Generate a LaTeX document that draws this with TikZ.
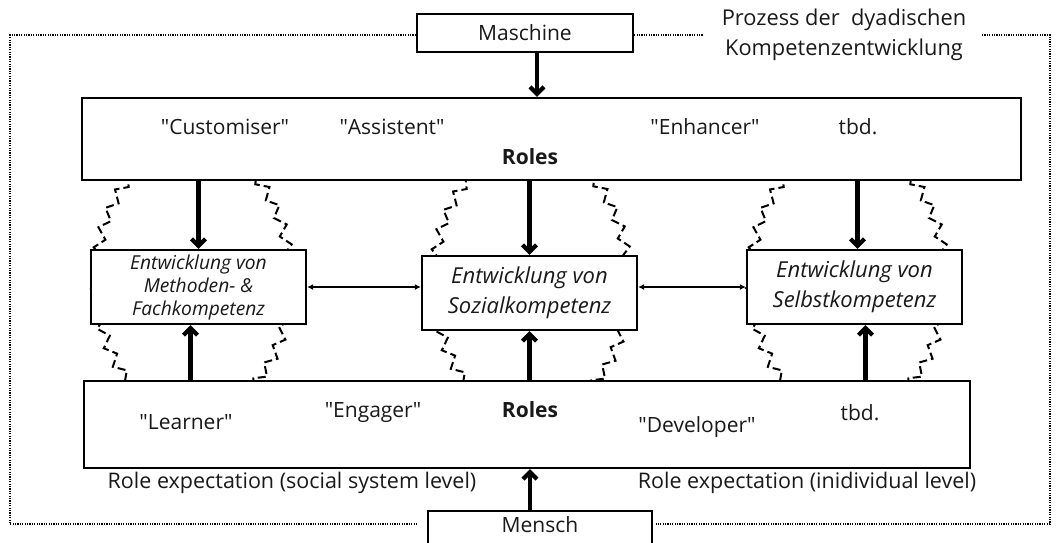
\documentclass[tikz,border=0pt]{standalone}
\usepackage{fontspec}
\setmainfont{Open Sans}
\usepackage{tikz}
\usetikzlibrary{arrows.meta, decorations.pathmorphing}

\newcommand{\qt}[1]{\textquotedbl#1\textquotedbl}

\begin{document}
\begin{tikzpicture}[x=1pt, y=-1pt,
        box/.style={draw, line width=2.2pt, fill=white, inner sep=0pt},
        label/.style={font=\fontsize{21}{30}\selectfont, text=black!90},
        kompetenz/.style={box, minimum width=215pt, minimum height=74pt, align=center, text=black!90},
        bigarrow/.style={line width=4.2pt, -{Straight Barb[length=7pt, width=14pt]}},
        smallarrow/.style={line width=1.8pt, {Latex[length=6pt, width=6pt]}-{Latex[length=6pt, width=6pt]}},
        frame/.style={line width=1.5pt, dash pattern=on 1.2pt off 1.2pt},
        wavy/.style={line width=2pt, dash pattern=on 8pt off 4pt, decorate, decoration={zigzag, segment length=20pt, amplitude=5pt}}]
        \useasboundingbox (0,0) rectangle (1056,542);

        % wavy outlines behind the boxes
        \draw[wavy] (193,280) ellipse [x radius=97pt, y radius=135pt];
        \draw[wavy] (531,282) ellipse [x radius=97pt, y radius=135pt];
        \draw[wavy] (848,280) ellipse [x radius=97pt, y radius=135pt];

        % frame
        \coordinate (tl) at (10,35);
        \coordinate (tr) at (1050,35);
        \coordinate (bl) at (10,524);
        \coordinate (br) at (1050,524);

        \node[box, label, minimum width=216pt, minimum height=38pt] (maschine) at (525,33) {Maschine};
        \node[box, label, minimum width=224pt, minimum height=36pt, text depth=8pt] (mensch) at (540,529) {Mensch};
        \node[label, font=\fontsize{21.8}{30}\selectfont, align=center] (prozess) at (844,35) {Prozess der\ \ dyadischen\\Kompetenzentwicklung};

        \draw[frame] (maschine.west |- tl) -- (tl) -- (bl) -- ([xshift=-10pt]mensch.west |- bl);
        \draw[frame] (maschine.east |- tl) -- (703,35);
        \draw[frame] (982,35) -- (tr) -- (br) -- ([xshift=3pt]mensch.east |- br);

        % roles of the machine
        \node[box, minimum width=939pt, minimum height=82pt] (rolesTop) at (551.5,139) {};
        \node[label] (customiser) at (225,127) {\qt{Customiser}};
        \node[label] (assistent) at (392,127) {\qt{Assistent}};
        \node[label] (enhancer) at (705,127) {\qt{Enhancer}};
        \node[label] (tbdTop) at (858,127) {tbd.};
        \node[label, font=\fontsize{21}{30}\selectfont\bfseries] (rolesTopLabel) at (530,157) {Roles};

        % roles of the human
        \node[box, minimum width=886pt, minimum height=87pt] (rolesBottom) at (527,424.5) {};
        \node[label] (learner) at (186,422) {\qt{Learner}};
        \node[label] (engager) at (373,413) {\qt{Engager}};
        \node[label, font=\fontsize{21}{30}\selectfont\bfseries] (rolesBottomLabel) at (530,410) {Roles};
        \node[label] (developer) at (697,427) {\qt{Developer}};
        \node[label] (tbdBottom) at (860,413) {tbd.};

        \node[label, font=\fontsize{21.5}{30}\selectfont] (socialLevel) at (292,483) {Role expectation (social system level)};
        \node[label, font=\fontsize{21.5}{30}\selectfont] (individualLevel) at (807,483) {Role expectation (inidividual level)};

        % competences
        \node[kompetenz, font=\fontsize{19.2}{23}\selectfont\itshape] (methoden) at (198.5,287) {Entwicklung von\\Methoden- \&\\Fachkompetenz};
        \node[kompetenz, font=\fontsize{22}{30}\selectfont\itshape] (sozial) at (529.5,293) {Entwicklung von\\Sozialkompetenz};
        \node[kompetenz, font=\fontsize{22}{30}\selectfont\itshape] (selbst) at (854.5,287) {Entwicklung von\\Selbstkompetenz};

        \draw[bigarrow] ([xshift=12pt]maschine.south) -- ([xshift=12pt]maschine.south |- rolesTop.north);
        \draw[bigarrow] (methoden.north |- rolesTop.south) -- (methoden.north);
        \draw[bigarrow] (sozial.north |- rolesTop.south) -- (sozial.north);
        \draw[bigarrow] ([xshift=3pt]selbst.north |- rolesTop.south) -- ([xshift=3pt]selbst.north);

        \draw[bigarrow] ([xshift=-8pt]methoden.south |- rolesBottom.north) -- ([xshift=-8pt]methoden.south);
        \draw[bigarrow] (sozial.south |- rolesBottom.north) -- (sozial.south);
        \draw[bigarrow] ([xshift=11pt]selbst.south |- rolesBottom.north) -- ([xshift=11pt]selbst.south);
        \draw[bigarrow] ([xshift=-10pt]mensch.north) -- ([xshift=-10pt]mensch.north |- rolesBottom.south);

        \draw[smallarrow] (methoden.east) -- (methoden.east -| sozial.west);
        \draw[smallarrow] (sozial.east |- selbst.west) -- (selbst.west);
\end{tikzpicture}
\end{document}
